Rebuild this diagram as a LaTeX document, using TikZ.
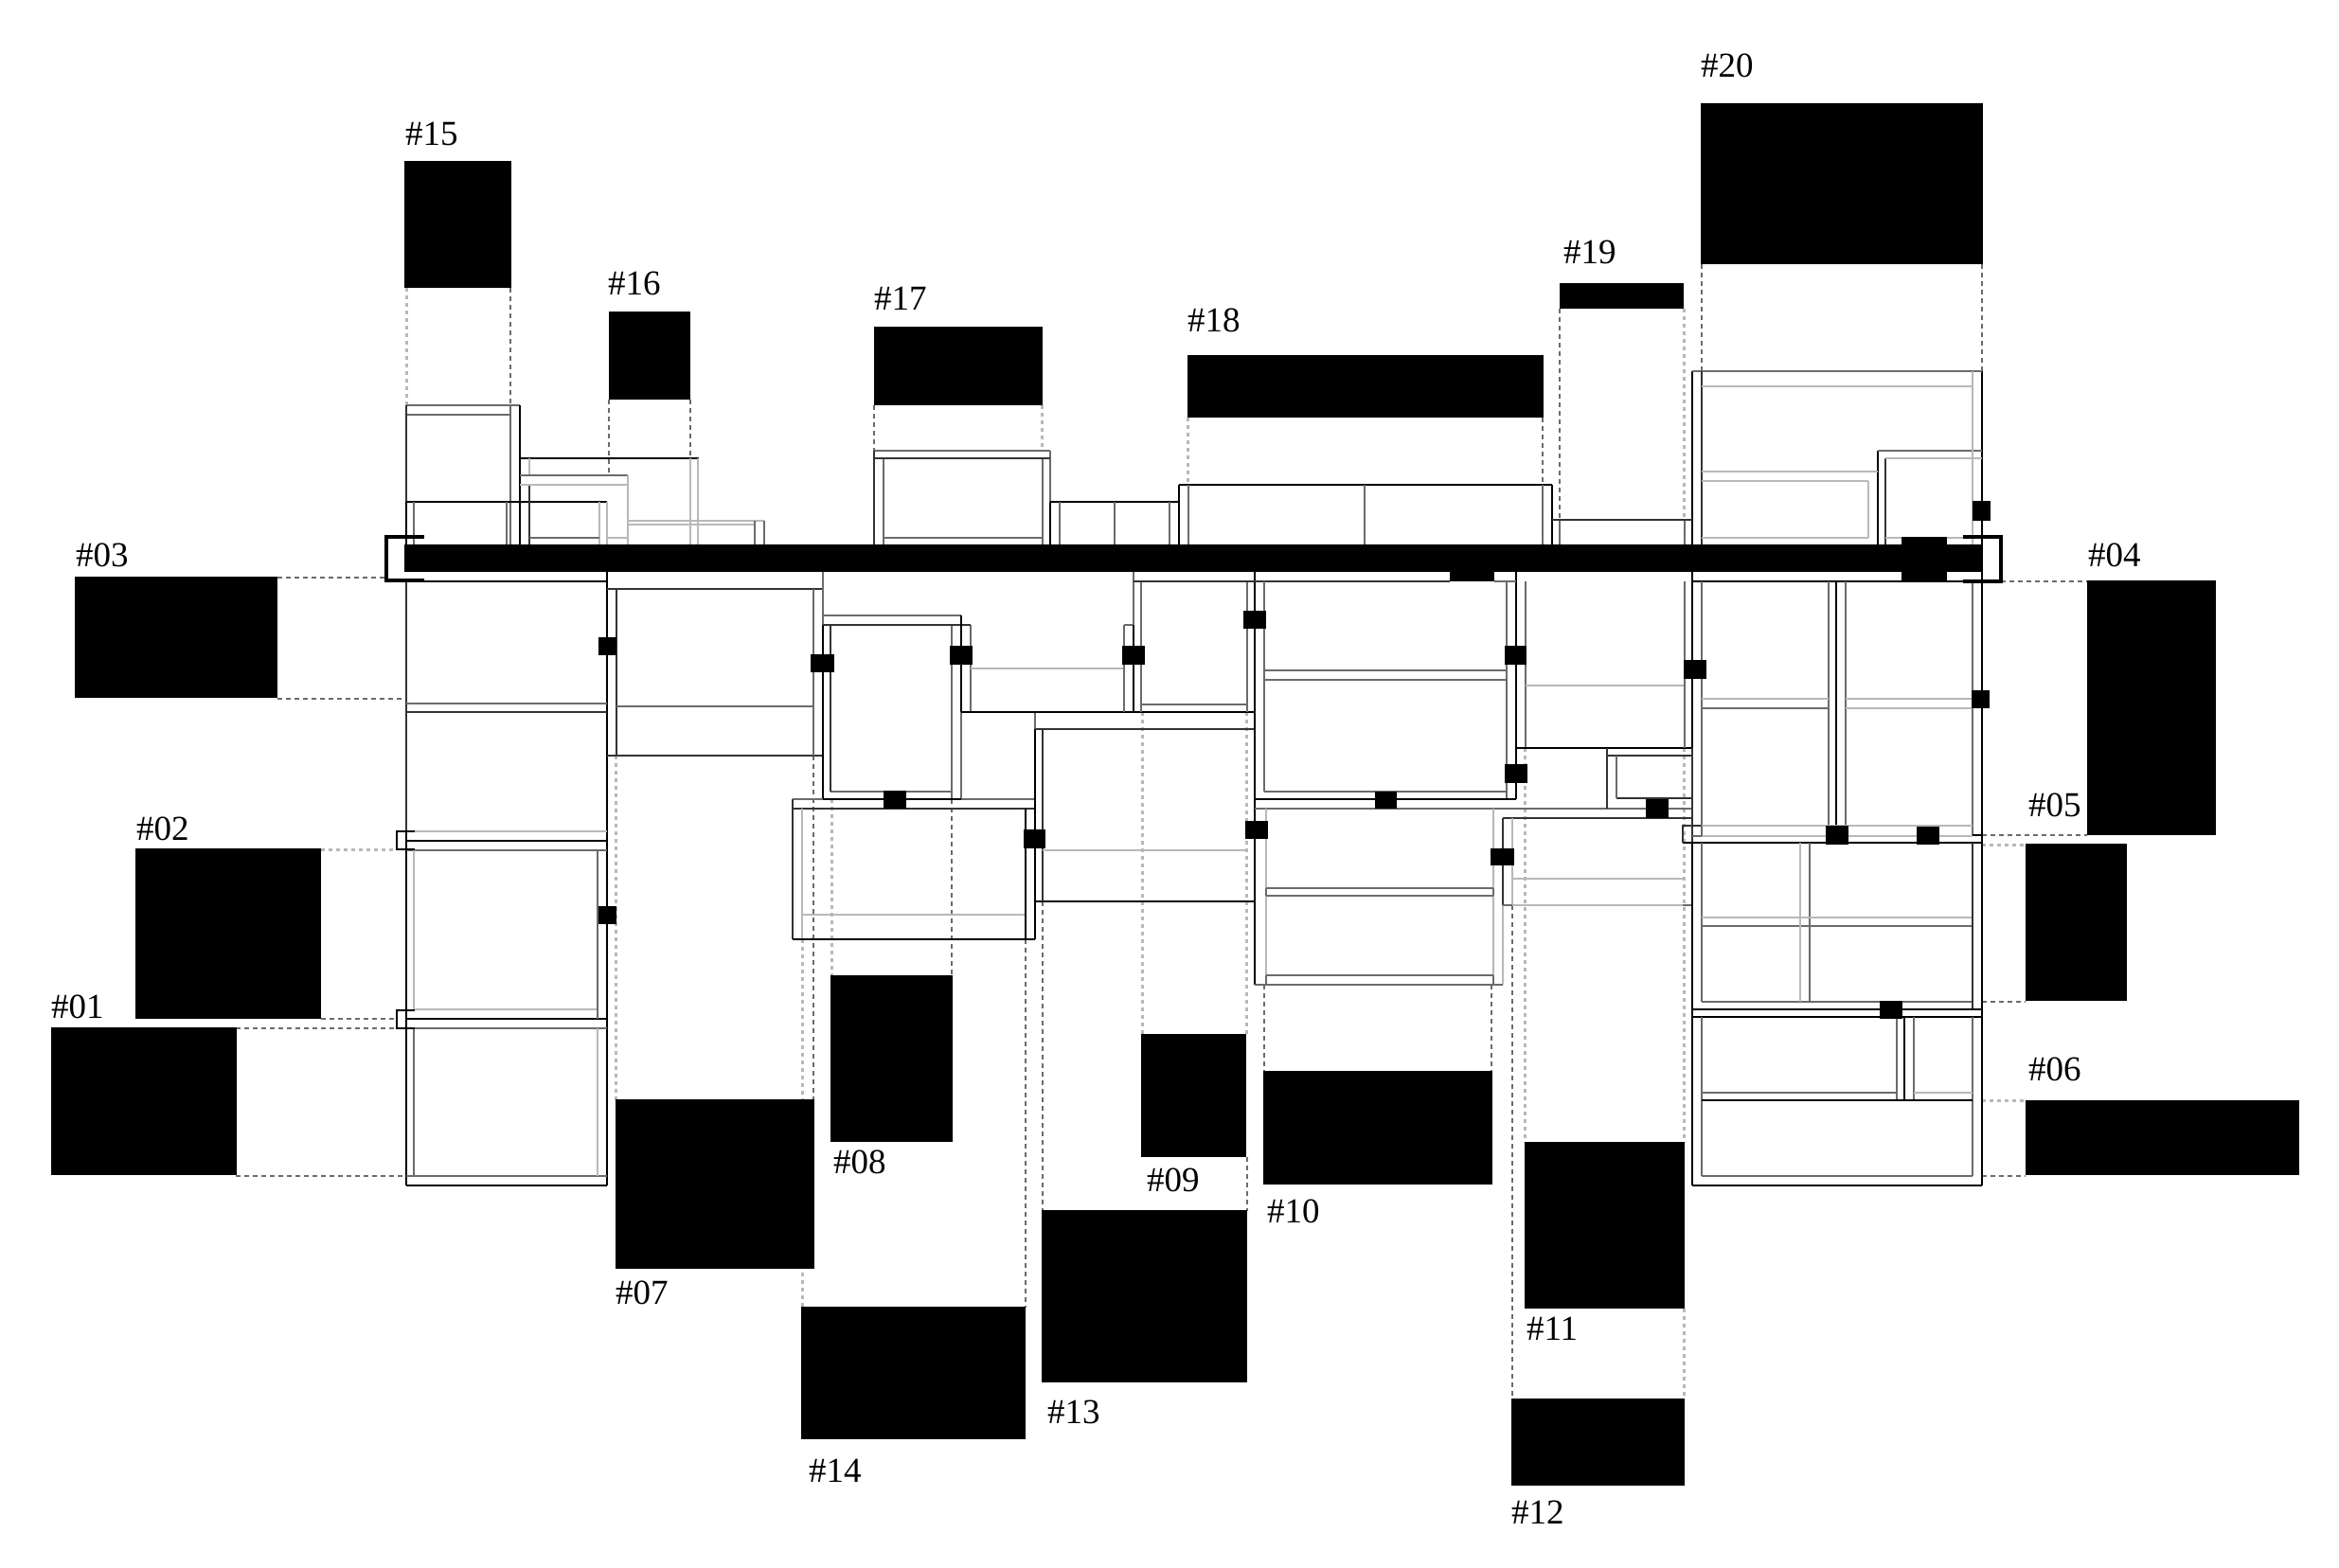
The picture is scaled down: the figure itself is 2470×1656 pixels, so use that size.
\documentclass[tikz,border=0pt]{standalone}
\usepackage{fontspec}
\setmainfont{Liberation Serif}
\definecolor{cdk}{gray}{0.2}
\definecolor{cgr}{gray}{0.42}
\definecolor{clt}{gray}{0.72}
\tikzset{
  bk/.style={black,line width=1.8pt},
  dk/.style={cdk,line width=1.7pt},
  gr/.style={cgr,line width=1.7pt},
  lt/.style={clt,line width=1.8pt},
  thickbr/.style={black,line width=4pt,line join=miter},
  ddash/.style={cgr,line width=1.4pt,dash pattern=on 5pt off 4pt},
  ldash/.style={clt,line width=3pt,dash pattern=on 4pt off 4pt},
  blockbox/.style={fill=black,draw=none,inner sep=0pt,outer sep=0pt},
  tag/.style={font=\fontsize{37}{42}\selectfont,anchor=base west,inner sep=0pt,outer sep=0pt,text=black}
}
\newcommand{\blk}[5]{\node[blockbox,minimum width={(#4-#2)*1pt},minimum height={(#5-#3)*1pt}] (#1) at ({(#2+#4)/2},{(#3+#5)/2}) {};}
\newcommand{\sq}[4]{\fill[black] (#1,#2) rectangle (#3,#4);}
\begin{document}
\begin{tikzpicture}[x=1pt,y=-1pt]
\useasboundingbox (0,0) rectangle (2470,1656);
\fill[white] (0,0) rectangle (2470,1656);
% --- dashed guide lines
\draw[ldash] (429,304)--(429,428);
\draw[ddash] (539,304)--(539,428);
\draw[ddash] (643,422)--(643,502);
\draw[ddash] (729,422)--(729,484);
\draw[ddash] (923,428)--(923,476);
\draw[ldash] (1100,428)--(1100,476);
\draw[ldash] (1254,441)--(1254,512);
\draw[ddash] (1629,441)--(1629,512);
\draw[ddash] (1647,326)--(1647,549);
\draw[ldash] (1778,326)--(1778,549);
\draw[ddash] (1797,279)--(1797,392);
\draw[ddash] (2093,279)--(2093,392);
\draw[ddash] (293,610)--(407,610);
\draw[ddash] (293,738)--(429,738);
\draw[ldash] (339,897)--(419,897);
\draw[ddash] (339,1076)--(419,1076);
\draw[ddash] (249,1086)--(419,1086);
\draw[ddash] (249,1242)--(429,1242);
\draw[ddash] (2113,614)--(2204,614);
\draw[ddash] (2093,882)--(2204,882);
\draw[ldash] (2093,892)--(2139,892);
\draw[ddash] (2093,1058)--(2139,1058);
\draw[ldash] (2093,1162)--(2139,1162);
\draw[ddash] (2093,1242)--(2139,1242);
\draw[ldash] (650,798)--(650,1162);
\draw[ddash] (859,798)--(859,1162);
\draw[ldash] (847,992)--(847,1381);
\draw[ddash] (1083,992)--(1083,1381);
\draw[ldash] (878,844)--(878,1030);
\draw[ddash] (1005,844)--(1005,1030);
\draw[ldash] (1206,752)--(1206,1093);
\draw[ldash] (1316,752)--(1316,1093);
\draw[ddash] (1101,952)--(1101,1279);
\draw[ddash] (1317,1222)--(1317,1279);
\draw[ddash] (1335,1040)--(1335,1132);
\draw[ddash] (1575,1040)--(1575,1132);
\draw[ldash] (1610,790)--(1610,1207);
\draw[ldash] (1778,790)--(1778,1207);
\draw[ddash] (1597,956)--(1597,1478);
\draw[ldash] (1778,1382)--(1778,1478);
% --- upper left frames
\draw[gr] (429,428)--(549,428) (429,438)--(539,438) (539,428)--(539,575);
\draw[bk] (549,428)--(549,575);
\draw[dk] (429,428)--(429,530);
\draw[bk] (429,530)--(429,575) (429,530)--(641,530);
\draw[gr] (437,530)--(437,575) (535,530)--(535,575);
\draw[lt] (633,530)--(633,575) (641,530)--(641,575);
\draw[bk] (549,484)--(738,484);
\draw[lt] (559,484)--(559,502) (729,484)--(729,575) (737,484)--(737,575);
\draw[dk] (559,512)--(559,575);
\draw[gr] (549,502)--(663,502) (559,568)--(633,568);
\draw[lt] (549,512)--(663,512) (663,502)--(663,575) (641,568)--(663,568);
\draw[lt] (663,550)--(807,550) (663,554)--(797,554);
\draw[gr] (797,550)--(797,575) (807,550)--(807,575);
% --- left column
\draw[bk] (429,614)--(641,614) (641,604)--(641,1252) (429,878)--(429,1252);
\draw[dk] (429,614)--(429,878);
\draw[bk] (429,1252)--(641,1252) (429,888)--(641,888) (429,1076)--(641,1076);
\draw[gr] (429,743)--(641,743) (429,898)--(641,898) (429,1086)--(641,1086) (429,1242)--(641,1242);
\draw[dk] (429,752)--(641,752);
\draw[lt] (437,878)--(641,878) (437,1066)--(631,1066) (437,898)--(437,1066) (631,1086)--(631,1242);
\draw[gr] (631,898)--(631,1076) (437,1086)--(437,1242);
\draw[bk] (438,878)--(419,878)--(419,897)--(438,897);
\draw[bk] (438,1067)--(419,1067)--(419,1086)--(438,1086);
% --- box 2
\draw[dk] (641,622)--(869,622) (651,622)--(651,798) (641,798)--(869,798);
\draw[gr] (859,622)--(859,798) (651,746)--(859,746);
% --- #08 frame
\draw[gr] (869,604)--(869,660);
\draw[bk] (869,660)--(869,844);
\draw[gr] (869,650)--(1015,650) (1005,660)--(1005,844) (1015,752)--(1015,844) (1025,660)--(1025,752) (877,836)--(1005,836);
\draw[dk] (869,660)--(1025,660) (877,660)--(877,836);
\draw[bk] (1015,650)--(1015,752) (869,844)--(1015,844);
\draw[gr] (837,844)--(869,844) (1015,844)--(1093,844);
\draw[dk] (837,854)--(1093,854) (837,844)--(837,992);
\draw[lt] (847,854)--(847,992) (847,966)--(1083,966);
\draw[bk] (837,992)--(1093,992) (1083,854)--(1083,992) (1093,770)--(1093,992);
\draw[gr] (1093,752)--(1093,770);
% --- middle box
\draw[bk] (1015,752)--(1325,752) (1093,952)--(1325,952);
\draw[dk] (1093,770)--(1325,770) (1101,770)--(1101,952);
\draw[lt] (1101,898)--(1317,898) (1025,706)--(1187,706);
% --- #09 box
\draw[gr] (1187,660)--(1187,752) (1187,660)--(1197,660) (1205,614)--(1205,752) (1205,744)--(1317,744) (1317,614)--(1317,752);
\draw[gr] (1197,604)--(1197,660);
\draw[bk] (1197,660)--(1197,752) (1325,604)--(1325,1040);
\draw[dk] (1197,614)--(1531,614);
% --- #10 frames
\draw[gr] (1335,614)--(1335,836) (1335,836)--(1591,836) (1335,708)--(1591,708) (1335,718)--(1591,718) (1591,614)--(1591,844);
\draw[bk] (1601,604)--(1601,844) (1325,844)--(1601,844);
\draw[gr] (1325,854)--(1787,854) (1578,614)--(1601,614) (1611,614)--(1611,790);
\draw[lt] (1337,854)--(1337,1030) (1577,854)--(1577,1030) (1587,956)--(1587,1040);
\draw[gr] (1337,938)--(1577,938) (1337,946)--(1577,946) (1337,938)--(1337,946) (1577,938)--(1577,946);
\draw[gr] (1337,1030)--(1577,1030) (1325,1040)--(1587,1040) (1337,1030)--(1337,1040) (1577,1030)--(1577,1040);
% --- #11/#12 frame
\draw[lt] (1611,724)--(1779,724);
\draw[dk] (1587,864)--(1587,956);
\draw[dk] (1587,864)--(1787,864);
\draw[lt] (1597,864)--(1597,956) (1597,928)--(1777,928) (1597,956)--(1777,956);
\draw[gr] (1587,956)--(1597,956) (1777,956)--(1787,956);
\draw[bk] (1601,790)--(1787,790);
\draw[dk] (1697,798)--(1787,798) (1697,790)--(1697,854) (1707,843)--(1787,843);
\draw[gr] (1707,798)--(1707,843) (1779,614)--(1779,790);
\draw[bk] (1787,604)--(1787,790) (1787,890)--(1787,1252);
\draw[dk] (1787,790)--(1787,890);
% --- right upper block
\draw[bk] (1787,614)--(2093,614);
\draw[gr] (1797,614)--(1797,872) (1931,614)--(1931,872) (1949,614)--(1949,872) (2083,614)--(2083,882);
\draw[bk] (1939,614)--(1939,872) (2093,604)--(2093,890) (2083,882)--(2093,882);
\draw[lt] (1797,738)--(1931,738) (1949,738)--(2083,738) (1949,748)--(2083,748) (1797,872)--(2083,872) (1797,883)--(2083,883);
\draw[gr] (1797,748)--(1931,748);
\draw[bk] (1777,890)--(2093,890);
\draw[dk] (1797,872)--(1777,872)--(1777,890);
\draw[gr] (1787,883)--(1797,883) (1797,872)--(1797,883);
% --- right lower block
\draw[gr] (1797,890)--(1797,1058) (1911,890)--(1911,1058) (1797,978)--(2083,978) (1797,1058)--(2083,1058);
\draw[lt] (1901,890)--(1901,1058) (1797,969)--(2083,969);
\draw[dk] (2083,890)--(2083,1066);
\draw[bk] (1787,1066)--(2093,1066) (1787,1074)--(2093,1074) (2093,890)--(2093,1252);
\draw[gr] (1797,1074)--(1797,1242) (2083,1074)--(2083,1242) (2003,1074)--(2003,1162) (2021,1074)--(2021,1162) (1797,1154)--(2003,1154) (1797,1242)--(2083,1242);
\draw[bk] (2011,1074)--(2011,1162) (1797,1162)--(2083,1162) (1787,1252)--(2093,1252);
\draw[lt] (2021,1154)--(2083,1154);
% --- top right frame
\draw[bk] (1787,392)--(1787,575) (2093,392)--(2093,575) (1983,476)--(1983,575);
\draw[gr] (1787,392)--(2093,392) (1983,476)--(2093,476);
\draw[dk] (1797,392)--(1797,575) (1991,484)--(1991,575);
\draw[lt] (2083,392)--(2083,575) (1797,408)--(2083,408) (1797,498)--(1983,498) (1797,508)--(1973,508) (1973,508)--(1973,568) (1797,568)--(1973,568) (1991,484)--(2093,484) (1991,568)--(2083,568);
% --- top middle frames
\draw[gr] (923,476)--(1109,476) (933,484)--(933,575) (933,568)--(1101,568) (1101,484)--(1101,575) (1109,476)--(1109,530);
\draw[dk] (923,484)--(1109,484) (923,476)--(923,575);
\draw[bk] (1109,530)--(1245,530) (1109,530)--(1109,575) (1245,512)--(1245,575) (1245,512)--(1639,512) (1639,512)--(1639,575);
\draw[gr] (1119,530)--(1119,575) (1177,530)--(1177,575) (1235,530)--(1235,575) (1255,512)--(1255,575) (1441,512)--(1441,575) (1629,512)--(1629,575) (1647,549)--(1647,575) (1779,549)--(1779,575);
\draw[dk] (1639,549)--(1787,549);
% --- brackets
\draw[thickbr] (448,567)--(408,567)--(408,613)--(448,613);
\draw[thickbr] (2073,567)--(2113,567)--(2113,614)--(2073,614);
% --- bar and squares
\node[blockbox,minimum width=1667pt,minimum height=29pt] (bar) at (1260.5,589.5) {};
\sq{1531}{604}{1578}{614}
\sq{2008}{567}{2056}{614}
\sq{632}{673}{651}{692}
\sq{632}{957}{651}{976}
\sq{856}{691}{881}{710}
\sq{1003}{682}{1027}{702}
\sq{1185}{682}{1209}{702}
\sq{1313}{645}{1337}{664}
\sq{933}{835}{957}{854}
\sq{1081}{876}{1104}{896}
\sq{1315}{867}{1339}{886}
\sq{1452}{836}{1475}{854}
\sq{1589}{682}{1612}{702}
\sq{1589}{807}{1613}{827}
\sq{1574}{896}{1599}{914}
\sq{1738}{844}{1762}{864}
\sq{1778}{697}{1802}{717}
\sq{2083}{529}{2102}{550}
\sq{2082}{729}{2101}{748}
\sq{1928}{872}{1952}{892}
\sq{2024}{873}{2048}{892}
\sq{1985}{1057}{2009}{1076}
% --- black blocks
\blk{b01}{54}{1085}{250}{1241}
\blk{b02}{143}{896}{339}{1076}
\blk{b03}{79}{609}{293}{737}
\blk{b04}{2204}{613}{2340}{882}
\blk{b05}{2139}{891}{2246}{1057}
\blk{b06}{2139}{1162}{2428}{1241}
\blk{b07}{650}{1161}{860}{1340}
\blk{b08}{877}{1030}{1006}{1206}
\blk{b09}{1205}{1092}{1316}{1222}
\blk{b10}{1334}{1131}{1576}{1251}
\blk{b11}{1610}{1206}{1779}{1382}
\blk{b12}{1596}{1477}{1779}{1569}
\blk{b13}{1100}{1278}{1317}{1460}
\blk{b14}{846}{1380}{1083}{1520}
\blk{b15}{427}{170}{540}{304}
\blk{b16}{643}{329}{729}{422}
\blk{b17}{923}{345}{1101}{428}
\blk{b18}{1254}{375}{1630}{441}
\blk{b19}{1647}{299}{1778}{326}
\blk{b20}{1796}{109}{2094}{279}
% --- labels
\node[tag] (t01) at (54,1075) {\#01};
\node[tag] (t02) at (144,887) {\#02};
\node[tag] (t03) at (80,598) {\#03};
\node[tag] (t04) at (2205,598) {\#04};
\node[tag] (t05) at (2142,862) {\#05};
\node[tag] (t06) at (2142,1141) {\#06};
\node[tag] (t07) at (650,1377) {\#07};
\node[tag] (t08) at (880,1239) {\#08};
\node[tag] (t09) at (1211,1258) {\#09};
\node[tag] (t10) at (1338,1291) {\#10};
\node[tag] (t11) at (1612,1415) {\#11};
\node[tag] (t12) at (1596,1609) {\#12};
\node[tag] (t13) at (1106,1503) {\#13};
\node[tag] (t14) at (854,1565) {\#14};
\node[tag] (t15) at (428,154) {\#15};
\node[tag] (t16) at (642,311) {\#16};
\node[tag] (t17) at (923,327) {\#17};
\node[tag] (t18) at (1254,350) {\#18};
\node[tag] (t19) at (1651,278) {\#19};
\node[tag] (t20) at (1796,82) {\#20};
\end{tikzpicture}
\end{document}
